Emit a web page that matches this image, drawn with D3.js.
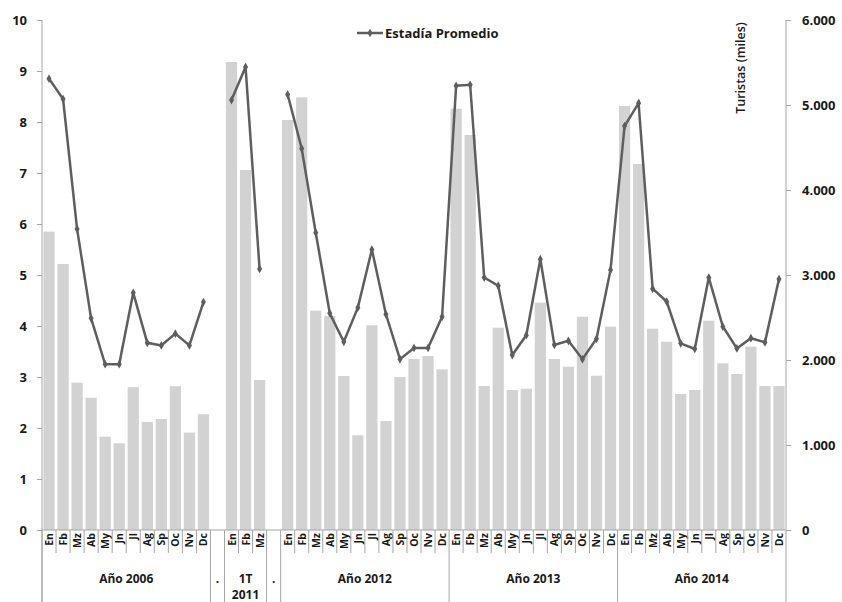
<!DOCTYPE html>
<html>
<head>
<meta charset="utf-8">
<script src="https://cdn.jsdelivr.net/npm/d3@7"></script>
<style>
  body { margin: 0; background: #fff; }
  text { font-family: "Open Sans", sans-serif; fill: #1a1a1a; }
</style>
</head>
<body>
<script>
const width = 842, height = 602;

// categories
const months = ["En", "Fb", "Mz", "Ab", "My", "Jn", "Jl", "Ag", "Sp", "Oc", "Nv", "Dc"];
const groupLabels = [["Año 2006"], ["."], ["1T", "2011"], ["."], ["Año 2012"], ["Año 2013"], ["Año 2014"]];
const groupMonths = [months, [""], ["En", "Fb", "Mz"], [""], months, months, months];

// Turistas (miles) - bars, right axis
const turistas = [
  [3510, 3130, 1733, 1556, 1098, 1020, 1680, 1272, 1306, 1692, 1146, 1362],
  [null],
  [5506, 4235, 1765],
  [null],
  [4824, 5090, 2580, 2518, 1812, 1114, 2408, 1282, 1800, 2012, 2047, 1890],
  [4957, 4647, 1694, 2380, 1647, 1662, 2674, 2012, 1921, 2509, 1815, 2392],
  [4988, 4306, 2368, 2215, 1600, 1647, 2462, 1961, 1835, 2156, 1694, 1694]
];

// Estadía Promedio - line, left axis
const estadia = [
  [8.85, 8.45, 5.9, 4.15, 3.25, 3.25, 4.65, 3.67, 3.62, 3.85, 3.62, 4.47],
  [null],
  [8.43, 9.08, 5.12],
  [null],
  [8.54, 7.48, 5.83, 4.25, 3.69, 4.36, 5.5, 4.23, 3.35, 3.57, 3.57, 4.18],
  [8.71, 8.73, 4.95, 4.79, 3.43, 3.82, 5.31, 3.63, 3.71, 3.35, 3.75, 5.1],
  [7.92, 8.37, 4.73, 4.48, 3.66, 3.55, 4.95, 3.99, 3.56, 3.76, 3.68, 4.92]
];

const leftTicks = d3.range(0, 11);
const rightTicks = [0, 1000, 2000, 3000, 4000, 5000, 6000];

// flatten
const rows = [];
groupMonths.forEach((ms, g) => {
  ms.forEach((m, i) => {
    rows.push({key: g + "-" + i, group: g, month: m, tur: turistas[g][i], est: estadia[g][i]});
  });
});

const plotLeft = 42, plotRight = 786, plotTop = 20, plotBottom = 530;

const svg = d3.select("body").append("svg").attr("width", width).attr("height", height);

const x = d3.scaleBand().domain(rows.map(d => d.key)).range([plotLeft, plotRight])
  .paddingInner(0.2).paddingOuter(0.1);
const yL = d3.scaleLinear().domain([0, 10]).range([plotBottom, plotTop]);
const yR = d3.scaleLinear().domain([0, 6000]).range([plotBottom, plotTop]);

const locale = d3.formatLocale({decimal: ",", thousands: ".", grouping: [3], currency: ["$", ""]});

// bars
svg.selectAll(".bar")
  .data(rows.filter(d => d.tur != null))
  .enter().append("rect")
  .attr("class", "bar")
  .attr("x", d => x(d.key))
  .attr("width", x.bandwidth())
  .attr("y", d => yR(d.tur))
  .attr("height", d => plotBottom - yR(d.tur))
  .style("fill", "#d2d2d2");

// axes
const axisColor = "#a6a6a6";
const gL = svg.append("g").attr("transform", `translate(${plotLeft},0)`)
  .call(d3.axisLeft(yL).tickValues(leftTicks).tickFormat(d3.format("d")).tickSize(5).tickPadding(10));
const gR = svg.append("g").attr("transform", `translate(${plotRight},0)`)
  .call(d3.axisRight(yR).tickValues(rightTicks).tickFormat(locale.format(",")).tickSize(5).tickPadding(11));
[gL, gR].forEach(g => {
  g.select(".domain").remove();
  g.selectAll("line").style("stroke", axisColor);
  g.selectAll("text").style("font-size", "13px").style("font-weight", "bold").style("fill", "#1a1a1a");
});

// vertical axis lines down to the bottom
svg.append("line").attr("x1", plotLeft).attr("x2", plotLeft).attr("y1", plotTop).attr("y2", height)
  .style("stroke", axisColor);
svg.append("line").attr("x1", plotRight).attr("x2", plotRight).attr("y1", plotTop).attr("y2", height)
  .style("stroke", axisColor);
svg.append("line").attr("x1", plotLeft).attr("x2", plotRight).attr("y1", plotBottom).attr("y2", plotBottom)
  .style("stroke", axisColor);

// category separators and labels
const step = x.step();
rows.forEach((d, i) => {
  const left = x(d.key) - step * x.paddingInner() / 2;
  const first = i === 0 || rows[i - 1].group !== d.group;
  svg.append("line")
    .attr("x1", left).attr("x2", left)
    .attr("y1", plotBottom).attr("y2", first ? height : 553)
    .style("stroke", axisColor);
  svg.append("text")
    .attr("transform", `translate(${x(d.key) + x.bandwidth() / 2 + 4},533) rotate(-90)`)
    .attr("text-anchor", "end")
    .style("font-size", "10.5px").style("font-weight", "bold")
    .text(d.month);
});

// group labels
groupLabels.forEach((lab, g) => {
  const keys = rows.filter(d => d.group === g).map(d => d.key);
  const cx = (x(keys[0]) + x(keys[keys.length - 1]) + x.bandwidth()) / 2;
  lab.forEach((t, j) => {
    svg.append("text")
      .attr("x", cx).attr("y", 583 + j * 16)
      .attr("text-anchor", "middle")
      .style("font-size", "12px").style("font-weight", "bold")
      .text(t);
  });
});

// line
const lineColor = "#5e5e5e";
const line = d3.line()
  .defined(d => d.est != null)
  .x(d => x(d.key) + x.bandwidth() / 2)
  .y(d => yL(d.est));
svg.append("path").datum(rows)
  .attr("d", line)
  .style("fill", "none").style("stroke", lineColor).style("stroke-width", 2.5);

svg.selectAll(".mark")
  .data(rows.filter(d => d.est != null))
  .enter().append("path")
  .attr("class", "mark")
  .attr("transform", d => `translate(${x(d.key) + x.bandwidth() / 2},${yL(d.est)})`)
  .attr("d", d3.symbol(d3.symbolDiamond, 22))
  .style("fill", lineColor);

// legend
const legend = svg.append("g").attr("transform", "translate(357,33)");
legend.append("line").attr("x1", 0).attr("x2", 26).attr("y1", 0).attr("y2", 0)
  .style("stroke", lineColor).style("stroke-width", 2.5);
legend.append("path").attr("transform", "translate(13,0)")
  .attr("d", d3.symbol(d3.symbolDiamond, 22)).style("fill", lineColor);
legend.append("text").attr("x", 28).attr("y", 4.5)
  .style("font-size", "13px").style("font-weight", "bold")
  .text("Estadía Promedio");

// right axis title
svg.append("text")
  .attr("transform", "translate(745,68) rotate(-90)")
  .attr("text-anchor", "middle")
  .style("font-size", "12.5px").style("font-weight", "600")
  .text("Turistas (miles)");
</script>
</body>
</html>
